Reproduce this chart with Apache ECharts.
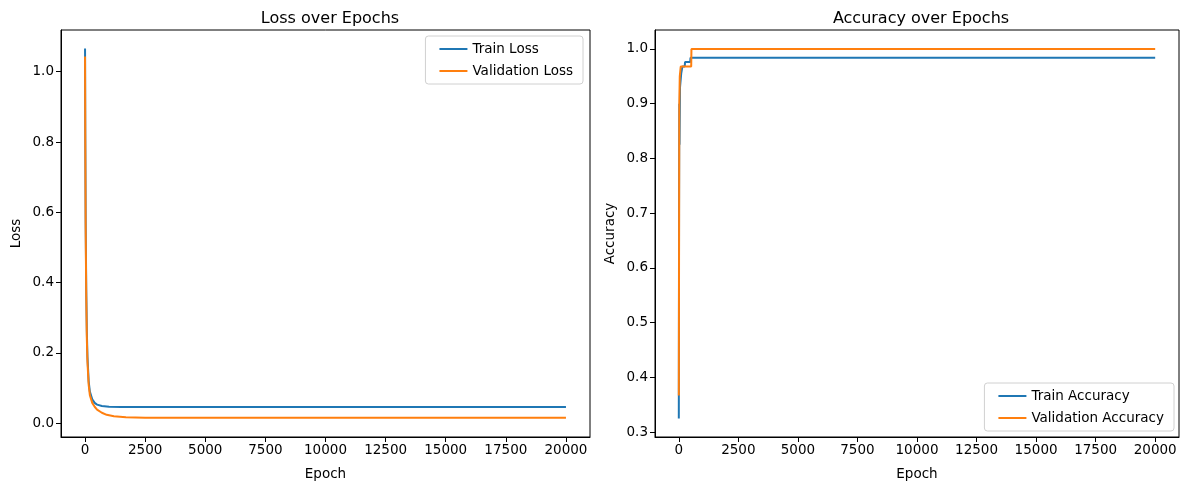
<!DOCTYPE html>
<html><head><meta charset="utf-8">
<script src="https://cdn.jsdelivr.net/npm/echarts@6/dist/echarts.min.js"></script>
<style>html,body{margin:0;padding:0;background:#fff}#c{width:1187px;height:490px}</style>
</head><body><div id="c"></div>
<script>
// ---- data ----
const xTicks = [0, 2500, 5000, 7500, 10000, 12500, 15000, 17500, 20000];
const lossTicks = [0.0, 0.2, 0.4, 0.6, 0.8, 1.0];
const accTicks = [0.3, 0.4, 0.5, 0.6, 0.7, 0.8, 0.9, 1.0];

const trainLossEpochs = [0, 10, 25, 50, 75, 100, 150, 200, 300, 400, 500, 700, 1000, 1500, 20000];
const trainLoss      = [1.066, 0.82, 0.58, 0.38, 0.26, 0.19, 0.12, 0.09, 0.068, 0.058, 0.053, 0.049, 0.047, 0.0465, 0.0465];
const valLossEpochs  = [0, 10, 25, 50, 75, 100, 150, 200, 300, 400, 500, 700, 900, 1200, 1700, 2500, 20000];
const valLoss        = [1.043, 0.80, 0.56, 0.36, 0.24, 0.175, 0.11, 0.08, 0.058, 0.047, 0.039, 0.030, 0.024, 0.020, 0.017, 0.0155, 0.0155];

const trainAccEpochs = [0, 10, 20, 30, 50, 100, 150, 250, 260, 480, 490, 20000];
const trainAcc       = [0.325, 0.70, 0.90, 0.825, 0.93, 0.955, 0.968, 0.968, 0.976, 0.976, 0.984, 0.984];
const valAccEpochs   = [0, 20, 40, 80, 520, 530, 20000];
const valAcc         = [0.367, 0.90, 0.95, 0.968, 0.968, 1.0, 1.0];

const zip = (xs, ys) => xs.map((x, i) => [x, ys[i]]);
const BLUE = '#1f77b4', ORANGE = '#ff7f0e';
const FONT = 'DejaVu Sans';

function xAxis(gi) {
  return {
    type: 'value', gridIndex: gi, min: -1000, max: 21000,
    name: 'Epoch', nameLocation: 'middle', nameGap: 30,
    nameTextStyle: { fontFamily: FONT, fontSize: 13.5, color: '#000' },
    splitLine: { show: false },
    axisLine: { show: true, onZero: false, lineStyle: { color: '#000', width: 1 } },
    axisTick: { show: true, length: 5, customValues: xTicks, lineStyle: { color: '#000' } },
    axisLabel: { customValues: xTicks, fontFamily: FONT, fontSize: 13.5, color: '#000', margin: 6,
      formatter: v => String(Math.round(v)) }
  };
}
function yAxis(gi, name, min, max, ticks) {
  return {
    type: 'value', gridIndex: gi, min: min, max: max,
    name: name, nameLocation: 'middle', nameRotate: 90, nameGap: 38,
    nameTextStyle: { fontFamily: FONT, fontSize: 13.5, color: '#000' },
    splitLine: { show: false },
    axisLine: { show: true, onZero: false, lineStyle: { color: '#000', width: 1 } },
    axisTick: { show: true, length: 5, customValues: ticks, lineStyle: { color: '#000' } },
    axisLabel: { customValues: ticks, fontFamily: FONT, fontSize: 13.5, color: '#000', margin: 7,
      formatter: v => v.toFixed(1) }
  };
}
function line(name, data, color, xi, yi) {
  return { type: 'line', name: name, data: data, xAxisIndex: xi, yAxisIndex: yi,
    showSymbol: false, symbol: 'none', lineStyle: { color: color, width: 2 }, itemStyle: { color: color },
    animation: false };
}
const legendCommon = {
  orient: 'vertical', itemWidth: 28, itemHeight: 2, itemGap: 8,
  backgroundColor: 'rgba(255,255,255,0.8)', borderColor: '#d0d0d0', borderWidth: 1, borderRadius: 3,
  padding: [6, 10, 6, 14], textStyle: { fontFamily: FONT, fontSize: 13.5, color: '#000' },
  icon: 'rect'
};

const chart = echarts.init(document.getElementById('c'), null, { renderer: 'canvas' });
chart.setOption({
  backgroundColor: '#fff',
  animation: false,
  title: [
    { text: 'Loss over Epochs', left: 325, top: 6, textAlign: 'center',
      textStyle: { fontFamily: FONT, fontSize: 16, fontWeight: 'normal', color: '#000' } },
    { text: 'Accuracy over Epochs', left: 916, top: 6, textAlign: 'center',
      textStyle: { fontFamily: FONT, fontSize: 16, fontWeight: 'normal', color: '#000' } }
  ],
  grid: [
    { left: 61, top: 30, width: 529, height: 407, show: true, borderColor: '#000', borderWidth: 1, backgroundColor: '#fff' },
    { left: 655, top: 30, width: 524, height: 407, show: true, borderColor: '#000', borderWidth: 1, backgroundColor: '#fff' }
  ],
  xAxis: [xAxis(0), xAxis(1)],
  yAxis: [yAxis(0, 'Loss', -0.039, 1.1186, lossTicks), yAxis(1, 'Accuracy', 0.291, 1.0347, accTicks)],
  legend: [
    Object.assign({}, legendCommon, { data: ['Train Loss', 'Validation Loss'], right: 1187 - 583, top: 36 }),
    Object.assign({}, legendCommon, { data: ['Train Accuracy', 'Validation Accuracy'], right: 1187 - 1174, top: 383 })
  ],
  series: [
    line('Train Loss', zip(trainLossEpochs, trainLoss), BLUE, 0, 0),
    line('Validation Loss', zip(valLossEpochs, valLoss), ORANGE, 0, 0),
    line('Train Accuracy', zip(trainAccEpochs, trainAcc), BLUE, 1, 1),
    line('Validation Accuracy', zip(valAccEpochs, valAcc), ORANGE, 1, 1)
  ]
});
</script></body></html>
